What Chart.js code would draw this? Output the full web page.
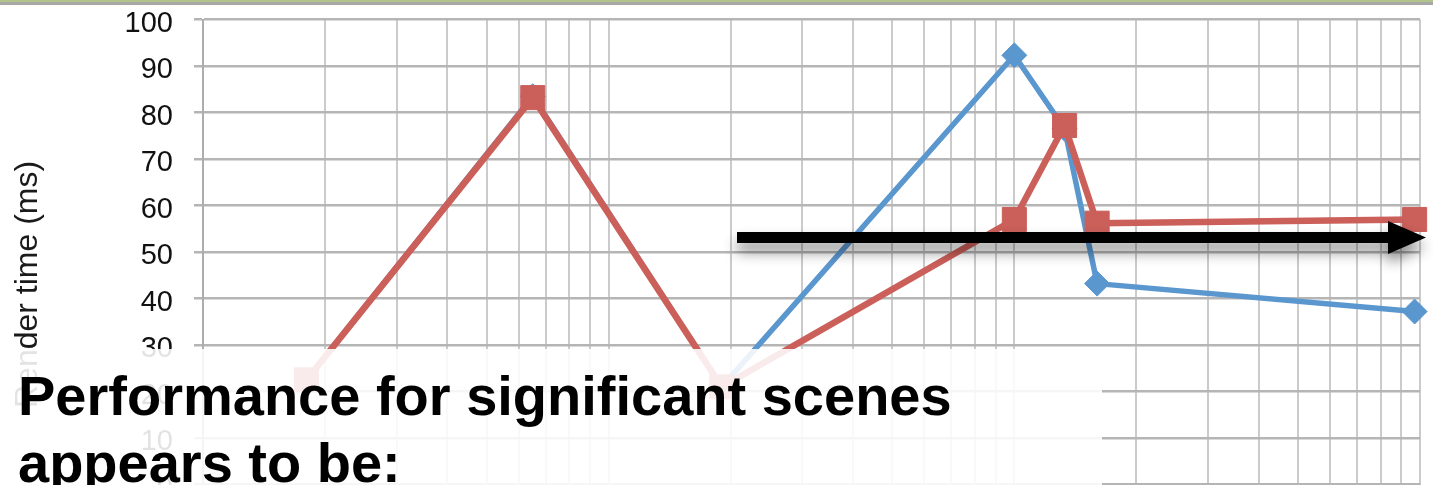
<!DOCTYPE html>
<html>
<head>
<meta charset="utf-8">
<title>Render time</title>
<script src="https://cdn.jsdelivr.net/npm/chart.js@4.4.1/dist/chart.umd.min.js"></script>
<style>
  html, body {
    margin: 0;
    padding: 0;
    width: 1433px;
    height: 485px;
    overflow: hidden;
    background: #fff;
  }

  .slide {
    position: relative;
    width: 1433px;
    height: 485px;
    overflow: hidden;
    background: #fff;
  }

  .slide__bar {
    position: absolute;
    left: 0;
    top: 0;
    width: 100%;
    height: 2px;
    background: #b3c48a;
    border-bottom: 3px solid #a8a8a8;
    z-index: 4;
  }

  .slide__chart {
    position: absolute;
    left: 0;
    top: 0;
  }

  .slide__axis-title {
    position: absolute;
    left: 10px;
    top: 408px;
    transform-origin: left top;
    transform: rotate(-90deg);
    font: 32px 'Liberation Sans', Arial, sans-serif;
    line-height: 32px;
    color: #1a1a1a;
    white-space: nowrap;
  }

  .slide__arrow {
    position: absolute;
    left: 0;
    top: 0;
    width: 1433px;
    height: 485px;
    pointer-events: none;
  }

  .slide__note {
    position: absolute;
    left: 0;
    top: 349px;
    width: 1102px;
    height: 140px;
    box-sizing: border-box;
    padding: 13px 0 0 18px;
    background: rgba(255, 255, 255, 0.88);
    font: bold 56px 'Liberation Sans', Arial, sans-serif;
    line-height: 67px;
    color: #000;
  }
</style>
</head>
<body>
<div class="slide js-slide">
  <div class="slide__bar"></div>
  <canvas class="slide__chart js-slide-chart" width="1433" height="560"></canvas>
  <div class="slide__axis-title">Render time (ms)</div>
  <svg class="slide__arrow" viewBox="0 0 1433 485">
    <defs>
      <filter id="arrow-shadow" x="-5%" y="-100%" width="110%" height="400%">
        <feDropShadow dx="0" dy="9" stdDeviation="7" flood-color="#000" flood-opacity="0.45"></feDropShadow>
      </filter>
    </defs>
    <polygon
      points="737,232 1388,232 1388,221 1426,237.5 1388,254 1388,243 737,243"
      fill="#000"
      filter="url(#arrow-shadow)"
    ></polygon>
  </svg>
  <div class="slide__note">Performance for significant scenes<br>appears to be:</div>
</div>

<script>
  // values
  const sceneSizes = [1.8, 6.5, 19, 100, 133, 160, 970];
  const blueTimes  = [22.5, 83.5, 21, 92.3, 76.5, 43.2, 37.2];
  const redTimes   = [22.5, 83.2, 21, 57, 77.2, 56.2, 57];

  const yTickLabels = [0, 10, 20, 30, 40, 50, 60, 70, 80, 90, 100];
  const xGridValues = [
    1, 2, 3, 4, 5, 6, 7, 8, 9,
    10, 20, 30, 40, 50, 60, 70, 80, 90,
    100, 200, 300, 400, 500, 600, 700, 800, 900,
    1000,
  ];

  class RenderTimeChart {
    #canvas;
    #chart;

    static #BLUE = '#5b97cf';
    static #RED  = '#cb5f5a';

    static #AREA = {
      left: 203,
      right: 13,
      top: 19.5,
      bottom: 484.5,
    };

    constructor(canvas) {
      this.#canvas = canvas;
      this.#init();
    }

    #toPoints(values) {
      return values.map((y, index) => ({ x: sceneSizes[index], y }));
    }

    #init() {
      const area = RenderTimeChart.#AREA;
      const canvasHeight = this.#canvas.height;

      const data = {
        datasets: [
          {
            label: 'Series 2',
            data: this.#toPoints(redTimes),
            borderColor: RenderTimeChart.#RED,
            backgroundColor: RenderTimeChart.#RED,
            borderWidth: 6.5,
            pointStyle: 'rect',
            pointRadius: 17,
            pointBorderWidth: 1,
            clip: false,
            order: 0,
          },
          {
            label: 'Series 1',
            data: this.#toPoints(blueTimes),
            borderColor: RenderTimeChart.#BLUE,
            backgroundColor: RenderTimeChart.#BLUE,
            borderWidth: 5.5,
            pointStyle: 'rectRot',
            pointRadius: 12.5,
            pointBorderWidth: 1,
            clip: false,
            order: 1,
          },
        ],
      };

      const config = {
        type: 'line',
        data,
        options: {
          responsive: false,
          animation: false,
          devicePixelRatio: 1,
          layout: {
            // big markers would otherwise pull the plot edges in
            autoPadding: false,
            padding: {
              left: 0,
              right: area.right,
              top: area.top,
              bottom: 0,
            },
          },
          elements: {
            line: {
              tension: 0,
              borderJoinStyle: 'round',
              borderCapStyle: 'round',
            },
          },
          plugins: {
            legend: { display: false },
            tooltip: { enabled: false },
          },
          scales: {
            x: {
              type: 'logarithmic',
              min: 1,
              max: 1000,
              afterBuildTicks: scale => {
                scale.ticks = xGridValues.map(value => ({ value }));
              },
              afterFit: scale => {
                scale.height = canvasHeight - area.bottom;
                scale.paddingLeft = 0;
                scale.paddingRight = 0;
              },
              ticks: { display: false },
              grid: {
                color: '#cbcbcb',
                lineWidth: 2,
                drawTicks: false,
              },
              border: {
                color: '#b5b5b5',
                width: 2,
              },
            },
            y: {
              min: 0,
              max: 100,
              afterBuildTicks: scale => {
                scale.ticks = yTickLabels.map(value => ({ value }));
              },
              afterFit: scale => {
                // the label padding must not push the plot down
                scale.width = area.left;
                scale.paddingTop = 0;
                scale.paddingBottom = 0;
              },
              ticks: {
                padding: 21,
                labelOffset: 4,
                color: '#111',
                font: {
                  family: "'Liberation Sans', Arial, sans-serif",
                  size: 29,
                },
              },
              grid: {
                color: '#b5b5b5',
                lineWidth: 2.5,
                tickLength: 9,
              },
              border: {
                color: '#adadad',
                width: 2,
              },
            },
          },
        },
      };

      this.#chart = new Chart(this.#canvas.getContext('2d'), config);
    }
  }

  new RenderTimeChart(document.querySelector('.js-slide-chart'));
</script>
</body>
</html>
